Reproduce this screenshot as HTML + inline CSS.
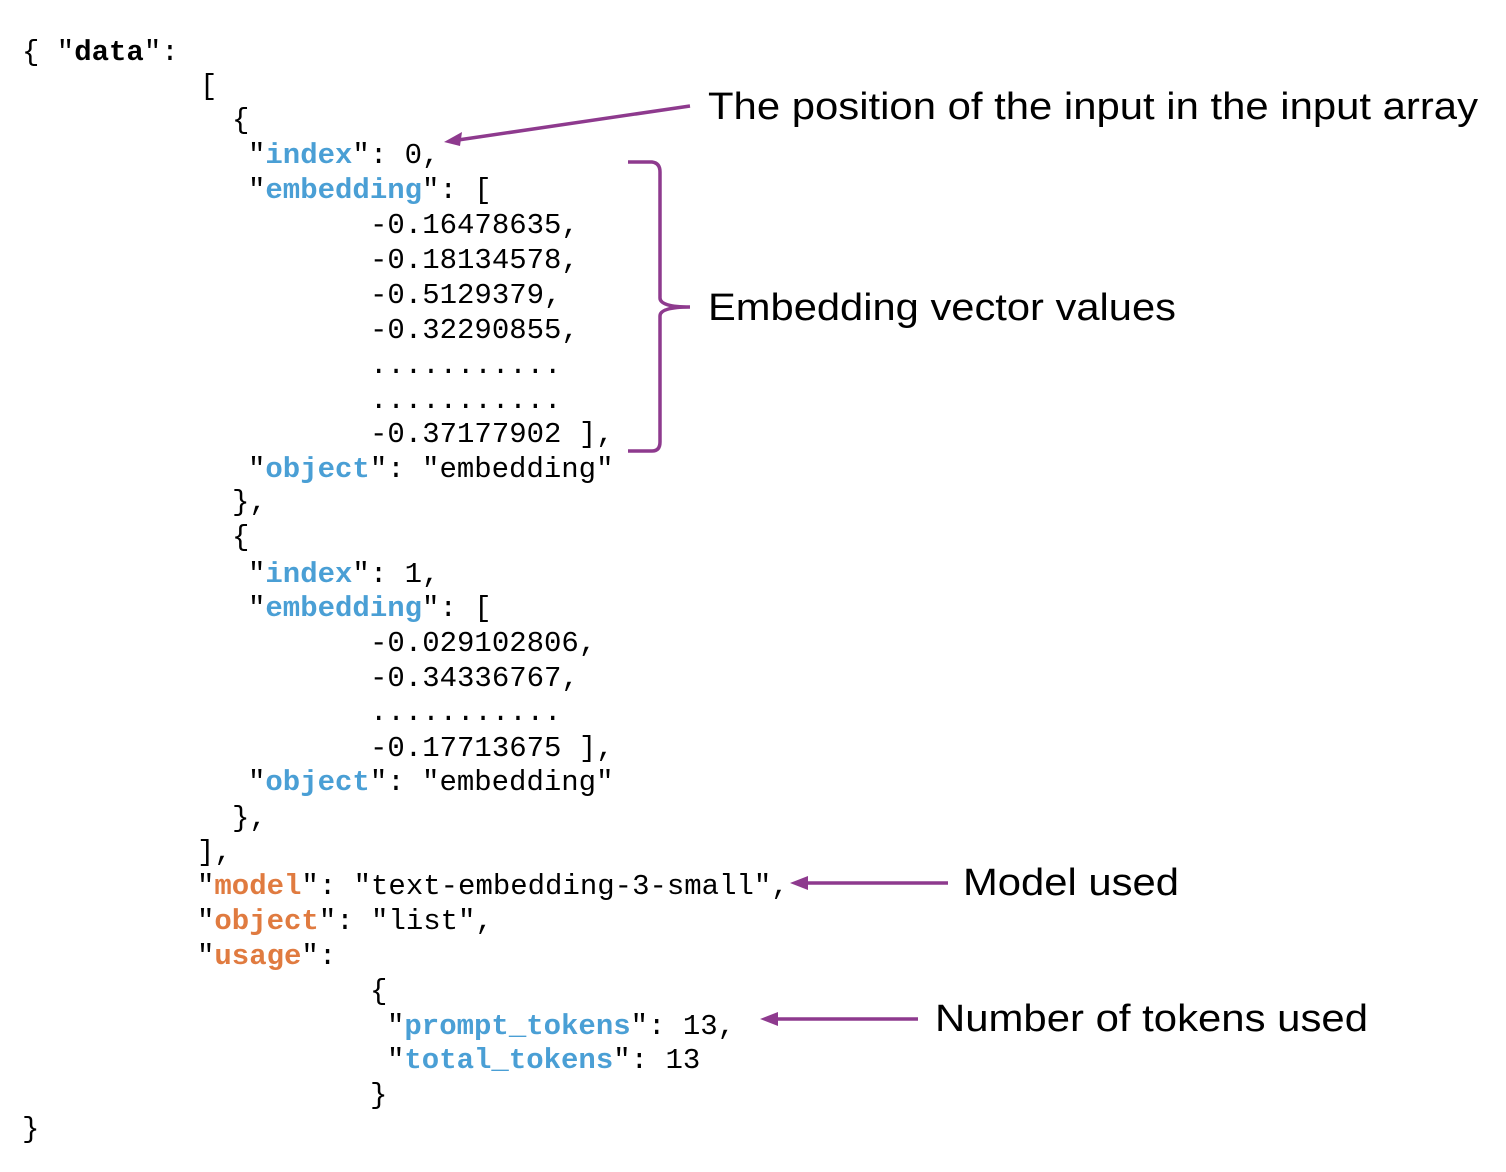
<!DOCTYPE html>
<html><head><meta charset="utf-8"><style>
html,body{margin:0;padding:0;background:#fff;}
svg{display:block;}
.m{font-family:"Liberation Mono","DejaVu Sans Mono",monospace;font-size:29px;fill:#000;}
.k{font-weight:bold;fill:#4a9fd5;}
.o{font-weight:bold;fill:#e07b40;}
.b{font-weight:bold;}
.s{font-family:"Liberation Sans",Arial,sans-serif;font-size:38px;fill:#000;}
</style></head><body>
<svg width="1506" height="1172" viewBox="0 0 1506 1172" xmlns="http://www.w3.org/2000/svg">
<g class="m" xml:space="preserve">
<text x="22" y="60">{ "<tspan class="b">data</tspan>":</text>
<text x="200" y="94">[</text>
<text x="232" y="128">{</text>
<text x="248" y="163">"<tspan class="k">index</tspan>": 0,</text>
<text x="248" y="198">"<tspan class="k">embedding</tspan>": [</text>
<text x="370" y="233">-0.16478635,</text>
<text x="370" y="268">-0.18134578,</text>
<text x="370" y="303">-0.5129379,</text>
<text x="370" y="338">-0.32290855,</text>
<text x="370" y="373">...........</text>
<text x="370" y="408">...........</text>
<text x="370" y="442">-0.37177902 ],</text>
<text x="248" y="477">"<tspan class="k">object</tspan>": "embedding"</text>
<text x="232" y="510">},</text>
<text x="232" y="545">{</text>
<text x="248" y="582">"<tspan class="k">index</tspan>": 1,</text>
<text x="248" y="616">"<tspan class="k">embedding</tspan>": [</text>
<text x="370" y="651">-0.029102806,</text>
<text x="370" y="686">-0.34336767,</text>
<text x="370" y="720">...........</text>
<text x="370" y="756">-0.17713675 ],</text>
<text x="248" y="790">"<tspan class="k">object</tspan>": "embedding"</text>
<text x="232" y="826">},</text>
<text x="197" y="860">],</text>
<text x="197" y="894">"<tspan class="o">model</tspan>": "text-embedding-3-small",</text>
<text x="197" y="929">"<tspan class="o">object</tspan>": "list",</text>
<text x="197" y="964">"<tspan class="o">usage</tspan>":</text>
<text x="370" y="999">{</text>
<text x="387" y="1034">"<tspan class="k">prompt_tokens</tspan>": 13,</text>
<text x="387" y="1068">"<tspan class="k">total_tokens</tspan>": 13</text>
<text x="370" y="1103">}</text>
<text x="22" y="1137">}</text>
</g>
<g stroke="#8e3a8e" stroke-width="3.5" fill="none">
<line x1="690" y1="106" x2="458" y2="140"/>
<path d="M628 162 L652 162 Q660 163 660 172 L660 298 Q660 307 690 307 Q660 307 660 316 L660 442 Q660 451 652 451 L628 451"/>
<line x1="948" y1="883" x2="804" y2="883"/>
<line x1="918" y1="1019" x2="774" y2="1019"/>
</g>
<g fill="#8e3a8e">
<polygon points="444,142 462,132 460,146"/>
<polygon points="790,883 808,876 808,890"/>
<polygon points="760,1019 778,1012 778,1026"/>
</g>
<g class="s">
<text x="708" y="119" textLength="770" lengthAdjust="spacingAndGlyphs">The position of the input in the input array</text>
<text x="708" y="320" textLength="468" lengthAdjust="spacingAndGlyphs">Embedding vector values</text>
<text x="963" y="895" textLength="216" lengthAdjust="spacingAndGlyphs">Model used</text>
<text x="935" y="1031" textLength="433" lengthAdjust="spacingAndGlyphs">Number of tokens used</text>
</g>
</svg>
</body></html>
